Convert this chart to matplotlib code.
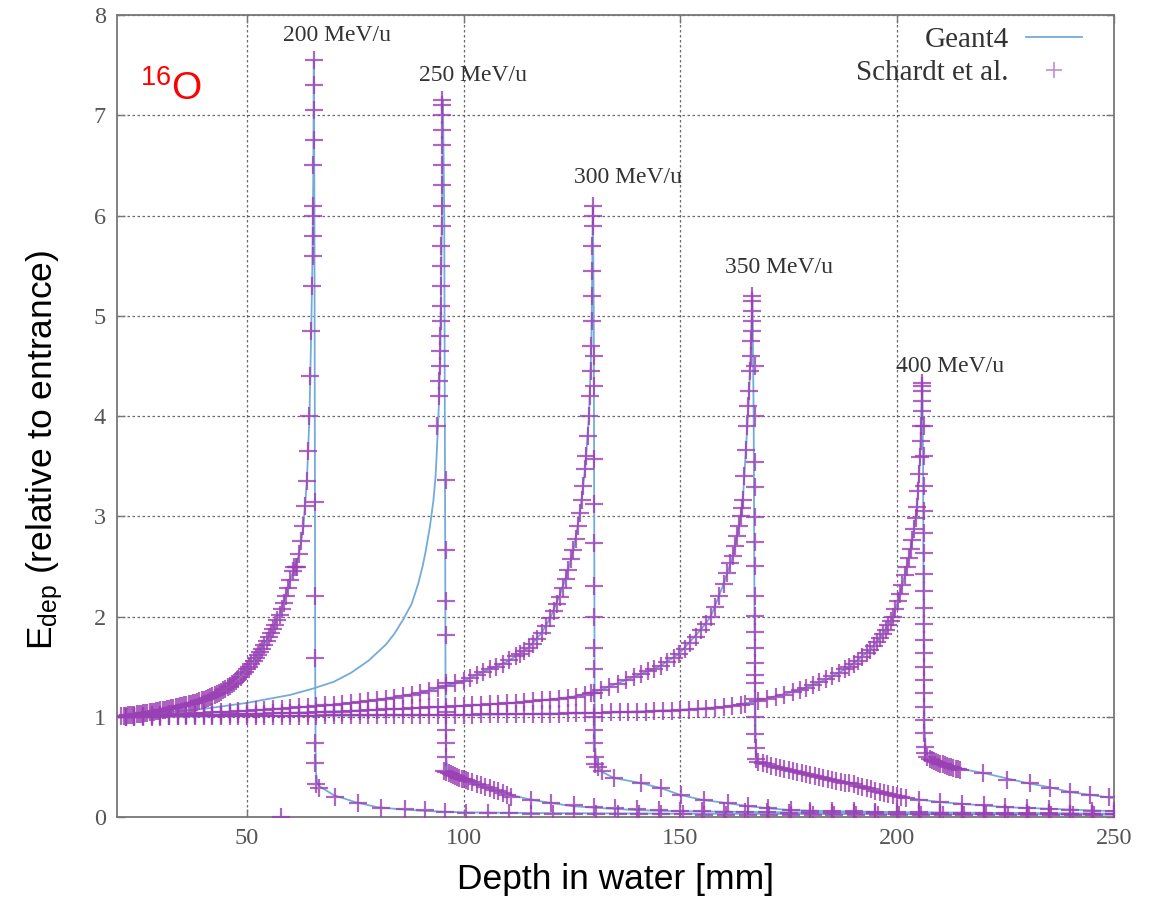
import matplotlib
matplotlib.use("Agg")
import matplotlib.pyplot as plt
from matplotlib.lines import Line2D

plt.rcParams["mathtext.fontset"] = "custom"
plt.rcParams["mathtext.rm"] = "Liberation Sans"
plt.rcParams["mathtext.it"] = "Liberation Sans:italic"

# Geant4 simulation curves (depth in mm, dose relative to entrance)
g4_200_x = [20, 25, 30, 35, 40, 45, 50, 53, 56, 58,
            60, 62, 63, 63.8, 64.4, 64.8, 65.1, 65.3, 65.4, 65.55,
            65.65, 65.72, 65.8, 65.9, 66.2, 67, 70, 75, 80, 85,
            90, 95, 100, 120, 150, 200, 250]
g4_200_y = [1.0, 1.03, 1.07, 1.11, 1.17, 1.28, 1.48, 1.65, 1.88, 2.08,
            2.37, 2.62, 2.9, 3.35, 4.0, 4.85, 5.6, 6.5, 7.55, 6.0,
            3.5, 1.5, 0.7, 0.45, 0.33, 0.3, 0.22, 0.15, 0.1, 0.08,
            0.065, 0.055, 0.048, 0.04, 0.035, 0.03, 0.025]

g4_250_x = [20, 30, 40, 50, 60, 65, 70, 74, 78, 82,
            84, 86, 88, 89.5, 90.5, 91.2, 92.2, 93.0, 93.5, 93.8,
            94.1, 94.3, 94.6, 94.9, 95.2, 95.5, 95.7, 95.8, 95.9, 96.3,
            100, 105, 110, 116, 125, 132, 140, 150, 180, 250]
g4_250_y = [1.0, 1.04, 1.08, 1.14, 1.22, 1.28, 1.35, 1.44, 1.56, 1.72,
            1.83, 1.97, 2.13, 2.33, 2.5, 2.65, 2.9, 3.16, 3.4, 3.66,
            3.95, 4.16, 4.7, 5.8, 7.15, 6.0, 3.0, 1.2, 0.6, 0.46,
            0.38, 0.3, 0.23, 0.17, 0.11, 0.09, 0.07, 0.06, 0.045, 0.03]

g4_300_x = [20, 30, 40, 50, 60, 70, 80, 90, 100, 105,
            110, 115, 118, 120, 122, 123.5, 125.3, 126.8, 128, 128.9,
            129.45, 129.8, 130.0, 130.1, 130.2, 130.3, 130.6, 132, 134.7, 140.9,
            145.5, 150.1, 155.4, 160.9, 165.5, 170.1, 175.4, 185, 200, 250]
g4_300_y = [1.0, 1.02, 1.04, 1.06, 1.09, 1.12, 1.17, 1.24, 1.36, 1.46,
            1.55, 1.69, 1.84, 1.99, 2.2, 2.38, 2.66, 3.03, 3.47, 4.0,
            4.7, 6.1, 5.0, 3.0, 1.2, 0.7, 0.52, 0.45, 0.39, 0.34,
            0.29, 0.22, 0.17, 0.14, 0.11, 0.09, 0.07, 0.06, 0.05, 0.035]

g4_350_x = [20, 40, 60, 80, 100, 115, 125, 131.7, 139.3, 145,
            149.7, 154.7, 157, 160, 162.1, 163.5, 164.4, 165.1, 165.7, 166.2,
            166.6, 166.9, 167.1, 167.3, 167.4, 168, 175, 181, 189, 195,
            200.7, 210, 225, 250]
g4_350_y = [1.0, 1.02, 1.04, 1.07, 1.11, 1.15, 1.2, 1.27, 1.4, 1.5,
            1.63, 1.87, 2.0, 2.33, 2.6, 2.9, 3.16, 3.66, 4.1, 4.6,
            5.2, 4.0, 2.0, 1.0, 0.6, 0.55, 0.47, 0.41, 0.34, 0.26,
            0.2, 0.15, 0.1, 0.06]

g4_400_x = [20, 60, 100, 131.7, 149.7, 160, 166.9, 177.7, 184, 189,
            193.8, 196.8, 199.1, 200.7, 202.3, 203.5, 204.6, 205.3, 205.8, 206.0,
            206.1, 206.3, 206.6, 208, 215, 220, 225, 230, 235, 240,
            245, 250]
g4_400_y = [1.0, 1.01, 1.02, 1.04, 1.07, 1.1, 1.15, 1.27, 1.38, 1.5,
            1.67, 1.83, 2.0, 2.23, 2.5, 2.76, 3.09, 3.59, 4.33, 3.5,
            2.0, 0.9, 0.65, 0.57, 0.48, 0.44, 0.39, 0.34, 0.3, 0.25,
            0.22, 0.19]

# Schardt et al. measurements
exp_200_x = [21, 21.5, 22, 22.5, 23, 23.5, 24, 24.5, 25, 25.5,
             26, 26.5, 27, 27.5, 28, 28.5, 29, 29.5, 30, 30.5,
             31, 31.5, 32, 32.5, 33, 33.5, 34, 34.5, 35, 35.5,
             36, 36.5, 37, 37.5, 38, 38.5, 39, 39.5, 40, 40.5,
             41, 41.5, 42, 42.5, 43, 43.5, 44, 44.5, 45, 45.5,
             46, 46.5, 47, 47.5, 48, 48.5, 49, 49.5, 50, 50.5,
             51, 51.5, 52, 52.5, 53, 53.5, 54, 54.5, 55, 55.5,
             56, 56.5, 57, 57.5, 58, 58.5, 59, 59.5, 60,
             60.5, 60.8, 61.2, 61.6, 62, 62.5, 63, 63.4, 63.8, 64.1,
             64.4, 64.6, 64.8, 65.0, 65.1, 65.2, 65.25, 65.3, 65.3, 65.35,
             65.35, 65.4, 65.4, 65.6, 65.6, 65.6, 65.7, 65.7, 65.8, 66.5,
             70.3, 75.7, 81.0, 86.4, 91.0, 95.6, 100.5, 105.5, 110.5, 115.5,
             120.5, 125.5, 130.5, 135.5, 140.5, 145.5, 150.5, 155.5, 160.5, 165.5,
             170.5, 175.5, 180.5, 185.5, 190.5, 195.5, 200.5, 205.5, 210.5, 215.5,
             220.5, 225.5, 230.5, 235.5, 240.5, 245.5, 57.8]
exp_200_y = [1.01, 1.01, 1.01, 1.02, 1.02, 1.02, 1.02, 1.03, 1.03, 1.03,
             1.04, 1.04, 1.04, 1.05, 1.05, 1.05, 1.06, 1.06, 1.07, 1.07,
             1.07, 1.08, 1.08, 1.09, 1.09, 1.10, 1.10, 1.11, 1.11, 1.12,
             1.12, 1.13, 1.13, 1.14, 1.14, 1.15, 1.16, 1.17, 1.17, 1.18,
             1.19, 1.20, 1.21, 1.22, 1.23, 1.24, 1.25, 1.27, 1.28, 1.30,
             1.31, 1.33, 1.34, 1.36, 1.38, 1.40, 1.43, 1.45, 1.48, 1.50,
             1.53, 1.56, 1.59, 1.62, 1.65, 1.68, 1.72, 1.76, 1.80, 1.84,
             1.88, 1.92, 1.97, 2.02, 2.08, 2.14, 2.21, 2.29, 2.37,
             2.46, 2.5, 2.5, 2.5, 2.62, 2.75, 2.9, 3.1, 3.35, 3.65,
             4.0, 4.4, 4.85, 5.3, 5.6, 5.8, 6.0, 6.1, 6.5, 6.75,
             7.05, 7.3, 7.55, 3.14, 2.21, 1.59, 0.74, 0.54, 0.33, 0.29,
             0.2, 0.14, 0.09, 0.08, 0.07, 0.05, 0.045, 0.04, 0.04, 0.035,
             0.035, 0.03, 0.03, 0.03, 0.03, 0.03, 0.03, 0.025, 0.025, 0.025,
             0.025, 0.025, 0.025, 0.02, 0.02, 0.02, 0.02, 0.02, 0.02, 0.02,
             0.02, 0.02, 0.02, 0.02, 0.02, 0.02, 0.0]

exp_250_x = [93.9, 94.3, 94.4, 94.5, 94.6, 94.6, 94.7, 94.7, 94.8, 94.8,
             94.85, 94.9, 94.9, 94.95, 94.95, 95.0, 95.0, 95.0, 95.05, 95.05,
             95.8, 95.8, 95.8, 95.8, 95.8, 95.8, 95.8, 95.8, 95.8, 95.5,
             96, 96.5, 97, 97.5, 98, 98.5, 99, 99.5, 100, 100.5,
             101, 102, 103, 104, 105, 106, 107, 108, 109, 110,
             111, 115.6, 120.2, 125.5, 130.1, 135, 140, 145, 150, 155,
             160, 165, 170, 175, 180, 185, 190, 195, 200, 205,
             210, 215, 220, 225, 230, 235, 240, 245, 250]
exp_250_y = [3.9, 4.2, 4.35, 4.5, 4.65, 4.8, 4.95, 5.1, 5.3, 5.5,
             5.7, 5.9, 6.1, 6.3, 6.5, 6.7, 6.85, 7.0, 7.1, 7.15,
             3.36, 2.66, 2.16, 1.82, 1.34, 1.05, 0.87, 0.74, 0.6, 0.46,
             0.45, 0.44, 0.43, 0.42, 0.41, 0.40, 0.39, 0.385, 0.38, 0.37,
             0.36, 0.35, 0.33, 0.32, 0.30, 0.29, 0.27, 0.26, 0.24, 0.22,
             0.20, 0.17, 0.14, 0.12, 0.10, 0.09, 0.08, 0.07, 0.065, 0.06,
             0.055, 0.05, 0.05, 0.045, 0.045, 0.04, 0.04, 0.04, 0.035, 0.035,
             0.035, 0.035, 0.03, 0.03, 0.03, 0.03, 0.03, 0.03, 0.03]

exp_300_x = [22, 24, 26, 28, 30, 32, 34, 36, 38, 40,
             42, 44, 46, 48, 50, 52, 54, 56, 58, 60,
             62, 64, 66, 68, 70, 72, 74, 76, 78, 80,
             82, 84, 86, 88, 90, 92, 94, 96, 98, 100,
             101.5, 103, 104.5, 106, 107.5, 109, 110.5, 112, 113, 114,
             115, 116, 117, 118, 119, 120, 120.8, 121.5, 122.2, 122.9,
             123.5, 124.1, 124.7, 125.3, 125.8, 126.3, 126.8, 127.2, 127.6, 128.0,
             128.3, 128.6, 128.9, 129.1, 129.3, 129.45, 129.55, 129.6, 129.65, 129.7,
             129.75, 129.8, 129.8, 130.1, 130.1, 130.1, 130.1, 130.1, 130.1, 130.1,
             130.1, 130.1, 130.1, 130.1, 130.1, 130.1, 130.2, 130.4, 131.0, 132.0,
             134.7, 140.9, 145.5, 150.1, 155.4, 160.9, 165.5, 170.1, 175.4, 180,
             185, 190, 195, 200, 205, 210, 215, 220, 225, 230,
             235, 240, 245, 250]
exp_300_y = [1.00, 1.01, 1.01, 1.02, 1.02, 1.03, 1.03, 1.03, 1.04, 1.04,
             1.05, 1.05, 1.05, 1.06, 1.06, 1.07, 1.07, 1.08, 1.08, 1.09,
             1.10, 1.10, 1.11, 1.12, 1.12, 1.13, 1.14, 1.15, 1.16, 1.17,
             1.18, 1.19, 1.21, 1.22, 1.24, 1.26, 1.29, 1.31, 1.34, 1.36,
             1.39, 1.42, 1.45, 1.48, 1.50, 1.53, 1.57, 1.61, 1.63, 1.66,
             1.69, 1.73, 1.78, 1.84, 1.91, 1.99, 2.06, 2.13, 2.20, 2.29,
             2.38, 2.47, 2.57, 2.66, 2.77, 2.90, 3.03, 3.16, 3.30, 3.47,
             3.60, 3.80, 4.00, 4.20, 4.45, 4.70, 4.95, 5.20, 5.45, 5.70,
             5.90, 6.00, 6.10, 4.60, 4.30, 3.57, 3.12, 2.73, 2.31, 2.00,
             1.69, 1.48, 1.24, 1.00, 0.87, 0.74, 0.60, 0.53, 0.50, 0.46,
             0.39, 0.34, 0.29, 0.22, 0.17, 0.14, 0.11, 0.09, 0.07, 0.065,
             0.06, 0.06, 0.055, 0.05, 0.05, 0.045, 0.045, 0.04, 0.04, 0.04,
             0.04, 0.035, 0.035, 0.035]

exp_350_x = [22, 24, 26, 28, 30, 32, 34, 36, 38, 40,
             42, 44, 46, 48, 50, 52, 54, 56, 58, 60,
             62, 64, 66, 68, 70, 72, 74, 76, 78, 80,
             82, 84, 86, 88, 90, 92, 94, 96, 98, 100,
             102, 104, 106, 108, 110, 112, 114, 116, 118, 120,
             122, 124, 126, 128, 129.4, 131.7, 133.5, 135.5, 137.5, 139.3,
             141, 142.5, 144, 145.5, 147, 148.5, 149.7, 151, 152.2, 153.5,
             154.7, 155.8, 157, 158, 159, 160, 160.8, 161.5, 162.1, 162.6,
             163.1, 163.5, 163.9, 164.2, 164.4, 164.7, 165.1, 165.4, 165.7, 165.9,
             166.0, 166.2, 166.3, 166.4, 166.5, 166.5, 166.6, 166.6, 167.2, 167.2,
             167.2, 167.2, 167.2, 167.3, 167.3, 167.3, 167.3, 167.3, 167.3, 167.3,
             167.3, 167.3, 167.3, 167.3, 167.3, 167.4, 167.5, 168.0, 169, 170,
             171, 172, 173, 174, 175, 176, 177, 178, 179, 180,
             181, 182, 183, 184, 185, 186, 187, 188, 189, 190,
             191, 192, 193, 194, 195, 196, 197, 198, 199, 200,
             201, 202, 205, 210, 215, 220, 225, 230, 235, 240,
             245, 250]
exp_350_y = [1.00, 1.00, 1.01, 1.01, 1.01, 1.01, 1.01, 1.02, 1.02, 1.02,
             1.02, 1.02, 1.03, 1.03, 1.03, 1.03, 1.03, 1.04, 1.04, 1.04,
             1.04, 1.04, 1.05, 1.05, 1.05, 1.05, 1.06, 1.06, 1.07, 1.07,
             1.08, 1.08, 1.08, 1.09, 1.09, 1.10, 1.10, 1.10, 1.11, 1.11,
             1.12, 1.12, 1.13, 1.13, 1.14, 1.14, 1.15, 1.16, 1.17, 1.17,
             1.18, 1.19, 1.20, 1.22, 1.24, 1.27, 1.30, 1.33, 1.37, 1.40,
             1.43, 1.46, 1.48, 1.51, 1.55, 1.59, 1.63, 1.68, 1.74, 1.80,
             1.87, 1.93, 2.00, 2.10, 2.21, 2.33, 2.44, 2.53, 2.60, 2.70,
             2.80, 2.90, 3.00, 3.08, 3.16, 3.40, 3.66, 3.90, 4.10, 4.25,
             4.45, 4.60, 4.75, 4.85, 4.95, 5.05, 5.15, 5.20, 4.5, 4.0,
             3.54, 3.29, 2.99, 2.74, 2.51, 2.21, 2.01, 1.85, 1.69, 1.54,
             1.42, 1.34, 1.18, 1.0, 0.83, 0.69, 0.58, 0.55, 0.54, 0.53,
             0.51, 0.50, 0.49, 0.48, 0.47, 0.46, 0.45, 0.44, 0.43, 0.42,
             0.41, 0.40, 0.39, 0.38, 0.37, 0.36, 0.35, 0.34, 0.34, 0.33,
             0.31, 0.30, 0.29, 0.28, 0.26, 0.25, 0.24, 0.23, 0.22, 0.21,
             0.20, 0.19, 0.17, 0.15, 0.13, 0.12, 0.10, 0.09, 0.08, 0.07,
             0.065, 0.06]

exp_400_x = [22, 24, 26, 28, 30, 32, 34, 36, 38, 40,
             42, 44, 46, 48, 50, 52, 54, 56, 58, 60,
             62, 64, 66, 68, 70, 72, 74, 76, 78, 80,
             82, 84, 86, 88, 90, 92, 94, 96, 98, 100,
             102, 104, 106, 108, 110, 112, 114, 116, 118, 120,
             122, 124, 126, 128, 130, 132, 134, 136, 138, 140,
             142, 144, 146, 148, 150, 152, 154, 156, 158, 160,
             162, 164, 165, 168, 170, 172, 174, 176, 177.7, 179,
             180.5, 182, 183.5, 185, 186.5, 188, 189, 190, 191, 192,
             193, 193.8, 194.6, 195.4, 196.1, 196.8, 197.4, 198, 198.6, 199.1,
             199.6, 200.2, 200.7, 201.2, 201.8, 202.3, 202.8, 203.2, 203.5, 203.9,
             204.3, 204.6, 204.9, 205.1, 205.3, 205.45, 205.55, 205.65, 205.7, 205.75,
             205.8, 205.8, 206.2, 206.2, 206.2, 206.2, 206.2, 206.2, 206.2, 206.2,
             206.2, 206.2, 206.2, 206.2, 206.2, 206.2, 206.2, 206.2, 206.3, 206.3,
             206.4, 206.5, 207.0, 207.5, 208, 208.5, 209, 209.5, 210, 210.5,
             211, 211.5, 212, 212.5, 213, 213.5, 214, 214.6, 219.8, 225.4,
             230.7, 235.3, 239.9, 244.5, 249]
exp_400_y = [1.00, 1.00, 1.00, 1.00, 1.00, 1.01, 1.01, 1.01, 1.01, 1.01,
             1.01, 1.01, 1.01, 1.01, 1.01, 1.01, 1.01, 1.01, 1.01, 1.01,
             1.01, 1.01, 1.01, 1.02, 1.02, 1.02, 1.02, 1.02, 1.02, 1.02,
             1.02, 1.02, 1.02, 1.02, 1.02, 1.02, 1.02, 1.02, 1.02, 1.02,
             1.02, 1.03, 1.03, 1.03, 1.03, 1.03, 1.03, 1.03, 1.03, 1.03,
             1.03, 1.04, 1.04, 1.04, 1.04, 1.04, 1.05, 1.05, 1.05, 1.05,
             1.05, 1.06, 1.06, 1.06, 1.07, 1.07, 1.08, 1.08, 1.09, 1.10,
             1.11, 1.12, 1.13, 1.16, 1.18, 1.20, 1.22, 1.25, 1.27, 1.29,
             1.32, 1.35, 1.38, 1.41, 1.44, 1.48, 1.50, 1.53, 1.56, 1.60,
             1.64, 1.67, 1.71, 1.75, 1.79, 1.83, 1.87, 1.92, 1.96, 2.00,
             2.08, 2.16, 2.23, 2.32, 2.42, 2.50, 2.58, 2.67, 2.76, 2.87,
             2.98, 3.09, 3.25, 3.42, 3.59, 3.75, 3.90, 4.05, 4.15, 4.25,
             4.30, 4.33, 3.9, 3.6, 3.3, 3.05, 2.83, 2.63, 2.43, 2.26,
             2.09, 1.93, 1.77, 1.64, 1.50, 1.37, 1.24, 1.10, 0.97, 0.84,
             0.70, 0.64, 0.60, 0.58, 0.57, 0.56, 0.55, 0.54, 0.53, 0.53,
             0.52, 0.51, 0.50, 0.50, 0.49, 0.48, 0.48, 0.47, 0.44, 0.37,
             0.34, 0.29, 0.25, 0.22, 0.2]

energy_labels = ["200 MeV/u", "250 MeV/u", "300 MeV/u", "350 MeV/u", "400 MeV/u"]
label_x = [70.7, 102.2, 137.9, 172.7, 212.3]
label_y = [7.8, 7.4, 6.38, 5.48, 4.49]

line_color = "#74abd8"
mark_color = "#9a40b4"
serif = "Liberation Serif"
sans = "Liberation Sans"

fig = plt.figure(figsize=(11.59, 9.10), dpi=100)
ax = fig.add_axes([0.101, 0.102, 0.860, 0.8815])

g4_sets = [(g4_200_x, g4_200_y), (g4_250_x, g4_250_y), (g4_300_x, g4_300_y),
           (g4_350_x, g4_350_y), (g4_400_x, g4_400_y)]
exp_sets = [(exp_200_x, exp_200_y), (exp_250_x, exp_250_y), (exp_300_x, exp_300_y),
            (exp_350_x, exp_350_y), (exp_400_x, exp_400_y)]

for gx, gy in g4_sets:
    ax.plot(gx, gy, color=line_color, lw=1.3, zorder=3)
for ex, ey in exp_sets:
    ax.plot(ex, ey, linestyle="none", marker="+", ms=13, mew=1.6,
            color=mark_color, alpha=0.8, zorder=4)

ax.set_xlim(20, 250)
ax.set_ylim(0, 8)
ax.set_xticks([50, 100, 150, 200, 250])
ax.set_yticks(range(0, 9))
ax.grid(True, color="#444444", linestyle=(0, (2, 2)), linewidth=0.9, alpha=0.8)
ax.set_axisbelow(True)

for sp in ax.spines.values():
    sp.set_color("#777777")
    sp.set_linewidth(1.3)
ax.tick_params(direction="in", length=6, width=1, color="#777777",
               top=True, right=True, labelsize=17.5, labelcolor="#555555", pad=8)
for lab in ax.get_xticklabels() + ax.get_yticklabels():
    lab.set_fontfamily(serif)

ax.set_xlabel("Depth in water [mm]", fontsize=25.5, family=sans, labelpad=10)
ax.set_ylabel(r"E$_{\rm dep}$ (relative to entrance)", fontsize=25.5, family=sans)
ax.yaxis.set_label_coords(-0.052, 0.458)

for txt, tx, ty in zip(energy_labels, label_x, label_y):
    ax.text(tx, ty, txt, fontsize=17, family=serif, color="#333333",
            ha="center", va="center", zorder=5)

ax.text(25.4, 7.15, r"$^{16}$O", fontsize=28, family=sans, color="red",
        ha="left", va="baseline", zorder=5)

handles = [Line2D([], [], color=line_color, lw=1.3),
           Line2D([], [], linestyle="none", marker="+", ms=11, mew=1.2,
                  color=mark_color, alpha=0.6)]
leg = ax.legend(handles, ["Geant4", "Schardt et al."], loc="upper right",
                bbox_to_anchor=(0.968, 0.985), frameon=False, markerfirst=False,
                borderaxespad=0, borderpad=0, handlelength=1.9, handletextpad=0.6,
                labelspacing=0.2, prop={"family": serif, "size": 21})
for t in leg.get_texts():
    t.set_color("#333333")

fig.savefig("out.png", dpi=100)
